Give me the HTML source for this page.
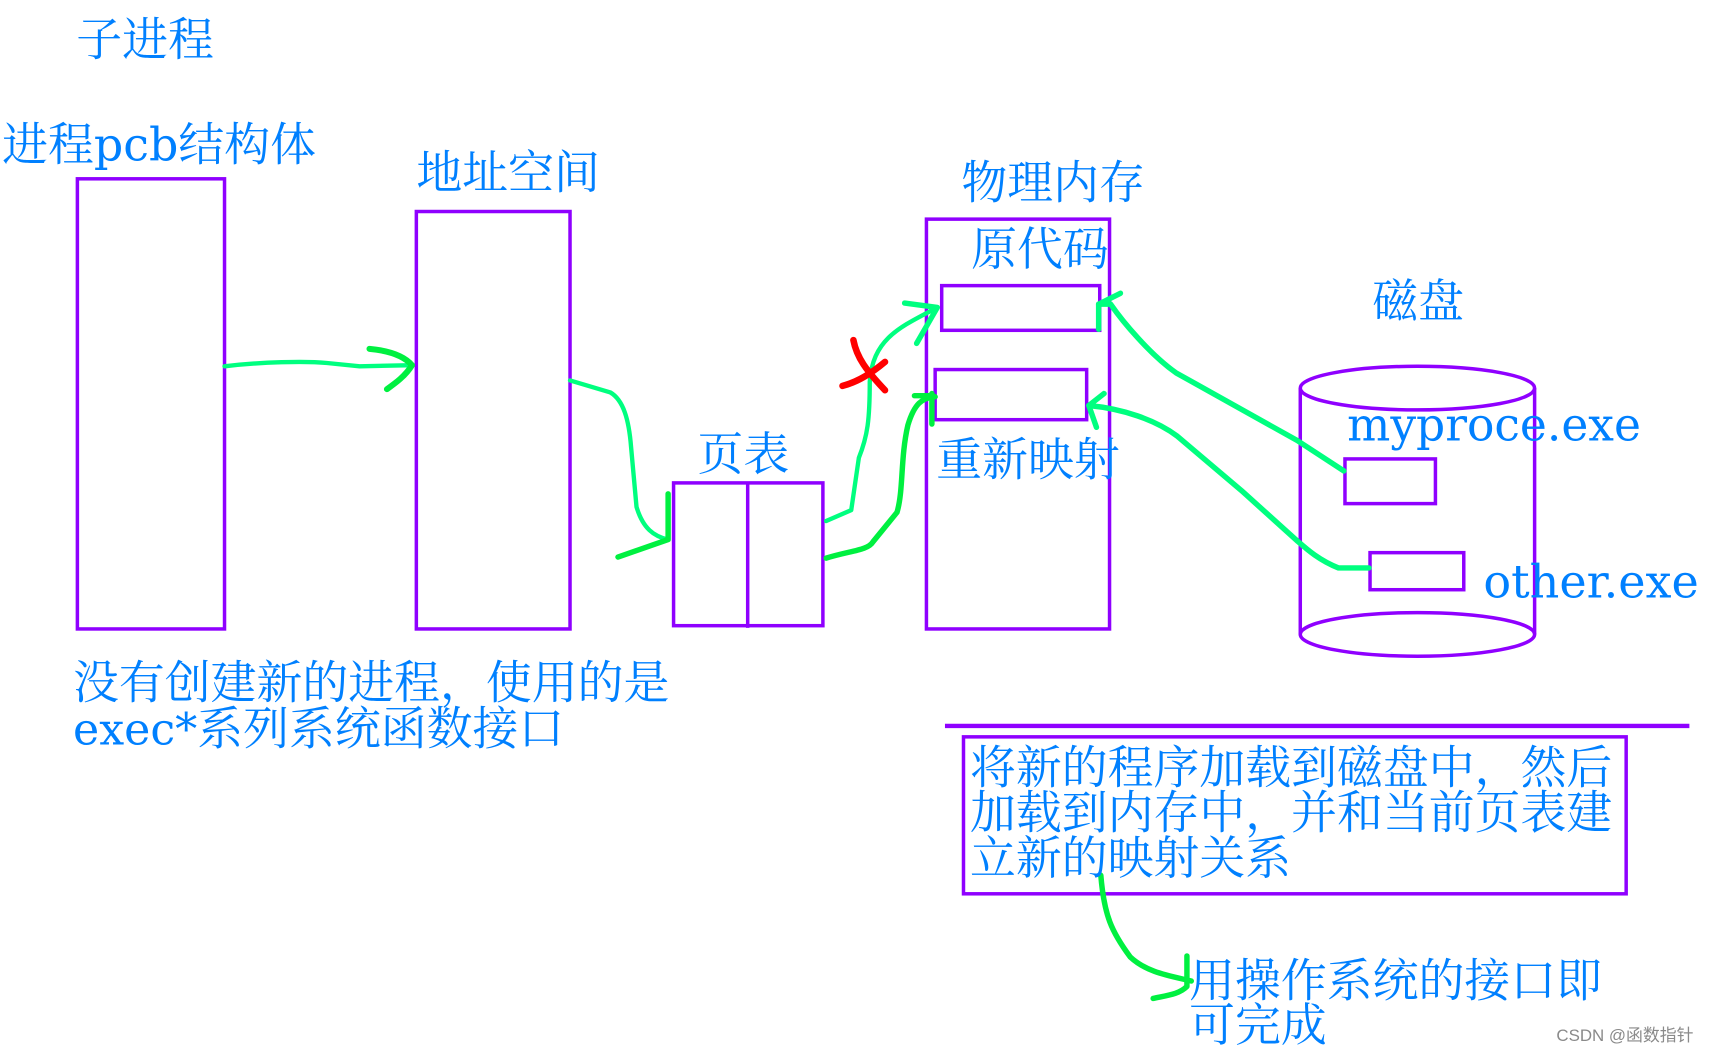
<!DOCTYPE html>
<html><head><meta charset="utf-8"><style>
html,body{margin:0;padding:0;background:#fff;width:1709px;height:1053px;overflow:hidden}
svg{display:block}
text{font-family:"DejaVu Serif","Noto Serif CJK SC",serif;font-size:42.1px;fill:#0080ff}
.b{fill:none;stroke:#8f00ff;stroke-width:3.2}
.g{fill:none;stroke:#00ff7f;stroke-width:4;stroke-linecap:round;stroke-linejoin:round}
.h{fill:none;stroke:#00f040;stroke-width:5;stroke-linecap:round;stroke-linejoin:round}
.r{fill:none;stroke:#ff0000;stroke-width:6;stroke-linecap:round;stroke-linejoin:round}
</style></head><body>
<svg width="1709" height="1053" viewBox="0 0 1568 966" xmlns="http://www.w3.org/2000/svg">
<rect class="b" x="71" y="164" width="135" height="413"/>
<rect class="b" x="382" y="194" width="141" height="383"/>
<rect class="b" x="618" y="443" width="137" height="131"/>
<path class="b" d="M686 443V576"/>
<rect class="b" x="850" y="201" width="168" height="376"/>
<rect class="b" x="864" y="262" width="145" height="41"/>
<rect class="b" x="858" y="339" width="139" height="46"/>
<path class="b" d="M1193 356V582M1408 356V582"/>
<ellipse class="b" cx="1300.5" cy="356" rx="107.5" ry="20"/>
<ellipse class="b" cx="1300.5" cy="582" rx="107.5" ry="20"/>
<rect class="b" x="1234" y="421" width="83" height="41"/>
<rect class="b" x="1257" y="507" width="86" height="34"/>
<path class="b" style="stroke-width:4" d="M867 666H1550"/>
<rect class="b" x="884" y="676" width="608" height="144"/>

<path class="g" d="M206 336C240 332 280 331 300 333L330 336L378 335"/>
<path class="h" style="stroke-width:5.5" d="M339 320C360 322 372 328 378 335C372 345 362 352 355 357"/>
<path class="g" d="M523 349L560 360C572 367 577 385 579 410L584 465C590 485 600 492 613 495"/>
<path class="h" d="M613 453V495L567 511"/>
<path class="g" d="M758 478L781 468L788 420C796 400 798 385 798 350C801 310 826 300 860 282"/>
<path class="g" style="stroke-width:5" d="M830 278L860 282L841 315"/>
<path class="h" d="M758 512C781 505 796 505 801 497L823 470C829 450 826 420 833 390C839 370 846 365 858 364"/>
<path class="h" d="M839 363H856M855 361V389"/>
<path class="g" style="stroke-width:5" d="M1233 432L1190 404L1079 342C1055 325 1030 295 1019 279L1008 279"/>
<path class="g" style="stroke-width:5" d="M1028 269L1008 279L1008 302"/>
<path class="g" style="stroke-width:5" d="M1256 521L1228 521C1210 514 1198 503 1190 496L1139 450L1080 400C1060 385 1030 375 999 372"/>
<path class="g" style="stroke-width:5" d="M1013 361L999 372L1006 392"/>
<path class="h" d="M1010 803C1013 840 1020 855 1037 878C1052 892 1072 895 1093 900"/>
<path class="h" d="M1089 877V905C1082 912 1072 913 1058 916"/>
<path class="r" d="M783 312C786 328 795 340 812 358M812 332C800 342 788 350 773 354"/>

<text x="70" y="51">子进程</text>
<text x="2" y="147">进程pcb结构体</text>
<text x="382" y="173">地址空间</text>
<text x="882" y="182">物理内存</text>
<text x="891" y="243">原代码</text>
<text x="1259" y="291">磁盘</text>
<text x="640" y="431">页表</text>
<text x="859" y="436">重新映射</text>
<text x="1236" y="404" style="font-size:41.8px">myproce.exe</text>
<text x="1361" y="548" style="font-size:42.3px">other.exe</text>
<text x="67" y="641">没有创建新的进程，使用的是</text>
<text x="67" y="683"><tspan style="font-size:40.6px">exec*</tspan>系列系统函数接口</text>
<text x="890" y="719">将新的程序加载到磁盘中，然后</text>
<text x="890" y="760">加载到内存中，并和当前页表建</text>
<text x="890" y="802">立新的映射关系</text>
<text x="1091" y="914">用操作系统的接口即</text>
<text x="1091" y="955">可完成</text>
<text x="1428" y="955" style="font-family:'Liberation Sans','Noto Sans CJK SC',sans-serif;font-size:15.5px;fill:#8a8a8a">CSDN @函数指针</text>
</svg>
</body></html>
